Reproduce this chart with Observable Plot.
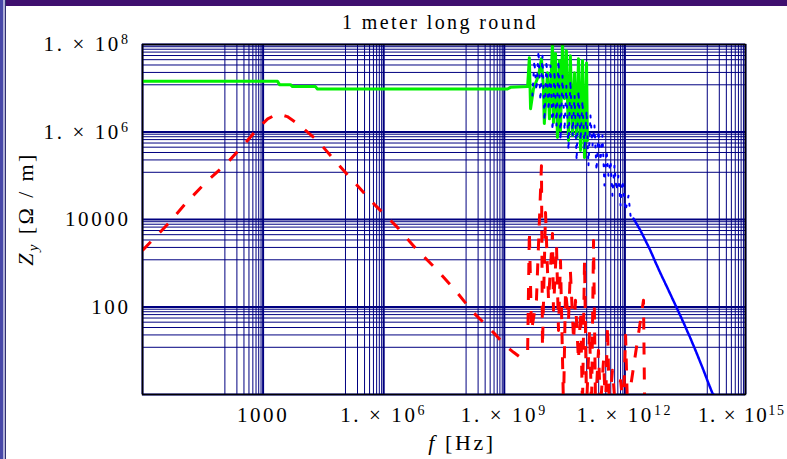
<!DOCTYPE html>
<html><head><meta charset="utf-8">
<script src="https://cdn.jsdelivr.net/npm/d3@7"></script>
<script src="https://cdn.jsdelivr.net/npm/@observablehq/plot@0.6"></script>
<style>
body{margin:0;background:#fff;}
#chart{position:relative;width:787px;height:459px;overflow:hidden;background:#fff;}
#chart svg{position:absolute;left:0;top:0;}
.chrome{position:absolute;z-index:2;}
</style></head><body>
<div id="chart">
  <div class="chrome" style="left:0;top:0;width:787px;height:6px;background:#3f0f6f;"></div>
  <div class="chrome" style="left:0;top:0;width:3px;height:459px;background:#4848a8;"></div>
  <div class="chrome" style="left:3px;top:0;width:2px;height:459px;background:#b0b0d8;"></div>
  <div class="chrome" style="left:5px;top:0;width:1px;height:459px;background:#303070;"></div>
</div>
<script>
// ---------- texts ----------
const chartTitle = "1 meter long round";
const xLabelMain = "f";
const xLabelRest = " [Hz]";
const yLabelMain = "Z";
const yLabelSub = "y";
const yLabelRest = " [Ω / m]";

// ---------- ticks ----------
const xTicks = [1e3, 1e6, 1e9, 1e12, 1e15];
const xTickLabels = ["1000", "1. × 10^6", "1. × 10^9", "1. × 10^12", "1. × 10^15"];
const yTicks = [1e2, 1e4, 1e6, 1e8];
const yTickLabels = ["100", "10000", "1. × 10^6", "1. × 10^8"];
const xMajors = [1, 1e3, 1e6, 1e9, 1e12, 1e15];
const yMajors = [1, 1e2, 1e4, 1e6, 1e8];

// ---------- series: red (dashed) ----------
const redF = [1, 4.4, 11.7, 37, 130, 410, 730, 1300, 2300, 4000, 7200, 22500, 7.1e4, 2.0e5, 6.2e5, 2.2e6, 6.2e6, 1.95e7, 5.5e7, 1.7e8, 5.4e8, 1.07e9, 1.7e9, 2.5e9, 3.8e9,
  4.2e9, 4.75e9, 6.3e9, 8.4e9, 8.9e9, 1.06e10, 1.26e10, 1.58e10, 1.67e10, 1.99e10, 2.23e10, 2.5e10, 2.97e10, 3.33e10, 3.95e10, 4.4e10, 5.3e10, 5.9e10, 7.0e10, 7.9e10, 8.8e10, 9.9e10,
  1.11e11, 1.32e11, 1.48e11, 1.66e11, 1.86e11, 2.2e11, 2.47e11, 2.94e11, 3.3e11, 3.7e11, 4.1e11, 4.9e11, 5.8e11, 7.8e11, 9.2e11, 1.04e12, 1.16e12, 2.9e12, 3.1e12];
const redZ = [1960, 8100, 23000, 70000, 2.0e5, 6.4e5, 1.2e6, 2.0e6, 2.6e6, 2.25e6, 1.56e6, 6.4e5, 1.9e5, 6.6e4, 2.1e4, 6600, 2200, 760, 266, 75, 26, 13, 9.2, 7.1, 9.2,
  5600, 29, 142, 1.7e5, 12, 1.45e4, 142, 4800, 84, 2550, 29, 1160, 0.5, 240, 49, 690, 17, 142, 6.0, 84, 0.5, 1160,
  0.5, 29, 0.5, 3300, 0.5, 10.2, 0.5, 6.0, 0.5, 38, 0.5, 3.6, 0.5, 2.1, 0.5, 22.5, 0.5, 142, 0.5];

// ---------- series: green (solid) ----------
const greenF = [1, 2280, 2560, 4800, 5400, 2.0e4, 2.25e4, 1.2e9, 1.43e9, 3.8e9,
  4.2e9, 4.5e9, 5.3e9, 7.1e9, 8.4e9, 9.4e9, 9.9e9, 1.19e10, 1.33e10, 1.58e10, 1.67e10, 1.88e10, 2.1e10, 2.36e10, 2.5e10, 2.8e10, 3.15e10, 3.5e10, 3.95e10,
  4.4e10, 5.0e10, 5.6e10, 6.3e10, 7.0e10, 7.9e10, 8.8e10, 9.9e10, 1.11e11, 1.17e11];
const greenZ = [1.45e7, 1.45e7, 1.21e7, 1.21e7, 1.09e7, 1.09e7, 9.6e6, 9.6e6, 1.05e7, 1.09e7,
  5.0e7, 3.4e6, 9.6e6, 1.94e7, 4.7e7, 1.03e7, 1.56e6, 2.27e7, 2.0e6, 1.04e8, 1.64e6, 6.2e7, 7.5e5, 4.3e7, 1.08e6, 1.04e8, 5.8e6, 7.2e7, 6.4e5,
  5.5e7, 8.3e5, 2.27e7, 7.5e5, 4.7e7, 3.8e5, 4.3e7, 2.6e5, 3.8e7, 6.4e5];

// ---------- series: blue (dotted) ----------
const blueOscF = [5.0e9, 5.6e9, 6.3e9, 7.1e9, 7.9e9, 8.9e9, 1.0e10, 1.12e10, 1.26e10, 1.41e10, 1.58e10, 1.77e10, 1.99e10, 2.23e10, 2.5e10, 2.8e10, 3.15e10, 3.5e10, 3.95e10, 4.4e10,
  5.0e10, 5.6e10, 6.3e10, 7.0e10, 7.9e10, 8.8e10, 9.9e10, 1.11e11, 1.24e11, 1.39e11, 1.56e11, 1.75e11, 1.97e11, 2.2e11, 2.47e11, 2.77e11, 3.1e11, 3.5e11, 3.9e11, 4.4e11,
  4.9e11, 5.5e11, 6.2e11, 6.9e11, 7.8e11, 8.7e11, 1.04e12, 1.23e12, 1.38e12, 1.64e12];
const blueOscZ = [6.8e6, 4.3e7, 8.8e6, 7.2e7, 5.2e6, 5.5e7, 1.8e6, 4.3e7, 3.1e6, 3.3e7, 1.08e6, 2.5e7, 1.4e6, 4.3e7, 6.4e5, 1.94e7, 1.08e6, 1.15e7, 3.8e5, 1.5e7,
  8.3e5, 6.8e6, 2.2e5, 8.8e6, 6.4e5, 5.2e6, 3.8e5, 3.1e6, 1.7e5, 2.4e6, 4.9e5, 1.4e6, 1.3e5, 1.08e6, 2.2e5, 8.3e5, 6.0e4, 3.8e5, 1.0e5, 2.2e5,
  3.5e4, 1.7e5, 4.6e4, 1.0e5, 2.1e4, 7.8e4, 1.6e4, 3.5e4, 1.23e4, 1.05e4];
const blueTailF = [1.64e12, 2.44e12, 3.25e12, 4.3e12, 5.8e12, 7.7e12, 1.22e13, 1.82e13, 2.87e13, 4.3e13, 6.4e13, 9.0e13, 1.2e14, 1.51e14, 1.9e14];
const blueTailZ = [1.05e4, 5600, 3300, 1960, 1040, 585, 240, 109, 44, 19, 7.9, 3.6, 1.8, 1.06, 0.85];

// ---------- build ----------
const rows = (F, Z) => F.map((f, i) => ({f, z: Z[i]}));
function gridLines(majors) {
  const out = [];
  for (let k = 1; k < majors.length; k++) {
    const a = majors[k - 1], b = majors[k];
    for (let j = 1; j <= 8; j++) out.push(a + j * (b - a) / 9);
  }
  return out;
}
const xLabelMap = new Map(xTicks.map((t, i) => [t, xTickLabels[i]]));
const yLabelMap = new Map(yTicks.map((t, i) => [t, yTickLabels[i]]));
const navy = "#000080";

const plot = Plot.plot({
  width: 787, height: 459,
  marginLeft: 142, marginRight: 42, marginTop: 44, marginBottom: 65,
  x: {type: "log", domain: [1, 1e15], label: null},
  y: {type: "log", domain: [1, 1e8], label: null},
  style: {fontFamily: "'Liberation Serif', 'Times New Roman', serif", fontSize: "21px", background: "transparent", color: "#000", overflow: "visible"},
  marks: [
    Plot.ruleX(gridLines(xMajors), {stroke: navy, strokeWidth: 1}),
    Plot.ruleY(gridLines(yMajors), {stroke: navy, strokeWidth: 1}),
    Plot.ruleX(xMajors, {stroke: navy, strokeWidth: 2}),
    Plot.ruleY(yMajors, {stroke: navy, strokeWidth: 2}),
    Plot.line(rows(redF, redZ), {x: "f", y: "z", stroke: "#ff0000", strokeWidth: 3, strokeDasharray: "12,13", strokeLinecap: "butt", clip: true}),
    Plot.line(rows(greenF, greenZ), {x: "f", y: "z", stroke: "#00f000", strokeWidth: 3, clip: true}),
    Plot.line(rows(blueOscF, blueOscZ), {x: "f", y: "z", stroke: "#0000ff", strokeWidth: 2, strokeDasharray: "2,8", clip: true}),
    Plot.line(rows(blueTailF, blueTailZ), {x: "f", y: "z", stroke: "#0000ff", strokeWidth: 2.5, strokeDasharray: "3,1", clip: true}),
    Plot.frame({stroke: "#000", strokeWidth: 1.5}),
    Plot.axisX(xTicks, {tickSize: 0, tickPadding: 13, tickFormat: d => xLabelMap.get(d), label: null}),
    Plot.axisY(yTicks, {tickSize: 0, tickPadding: 12, tickFormat: d => yLabelMap.get(d), label: null})
  ]
});

const svg = plot;
const NS = "http://www.w3.org/2000/svg";
// superscripts in tick labels
svg.querySelectorAll('g[aria-label$="tick label"] text').forEach(t => {
  const s = t.textContent;
  t.setAttribute("letter-spacing", "2.6");
  if (s.includes("^")) {
    const [base, exp] = s.split("^");
    t.textContent = "";
    const a = document.createElementNS(NS, "tspan"); a.textContent = base; t.appendChild(a);
    const b = document.createElementNS(NS, "tspan"); b.textContent = exp;
    b.setAttribute("dy", "-7"); b.setAttribute("font-size", "14"); t.appendChild(b);
    if (exp === "15") { t.setAttribute("letter-spacing", "1.6"); t.setAttribute("text-anchor", "end"); t.setAttribute("dx", "40"); }
  }
});

const g = d3.select(svg).append("g").attr("font-family", "'Liberation Serif', 'Times New Roman', serif").attr("fill", "#000");
g.append("text").attr("x", 440).attr("y", 29).attr("text-anchor", "middle").attr("font-size", 20).attr("letter-spacing", 2.4).text(chartTitle);

const xl = g.append("text").attr("x", 462).attr("y", 450).attr("text-anchor", "middle").attr("font-size", 22).attr("letter-spacing", 2.6);
xl.append("tspan").attr("font-style", "italic").text(xLabelMain);
xl.append("tspan").text(xLabelRest);

const yl = g.append("text").attr("transform", "translate(33,209) rotate(-90)").attr("text-anchor", "middle").attr("font-size", 22).attr("letter-spacing", 2.4);
yl.append("tspan").attr("font-style", "italic").text(yLabelMain);
yl.append("tspan").attr("font-style", "italic").attr("font-size", 15).attr("dy", 5).text(yLabelSub);
yl.append("tspan").attr("dy", -5).text(yLabelRest);

document.getElementById("chart").appendChild(svg);
</script>
</body></html>
